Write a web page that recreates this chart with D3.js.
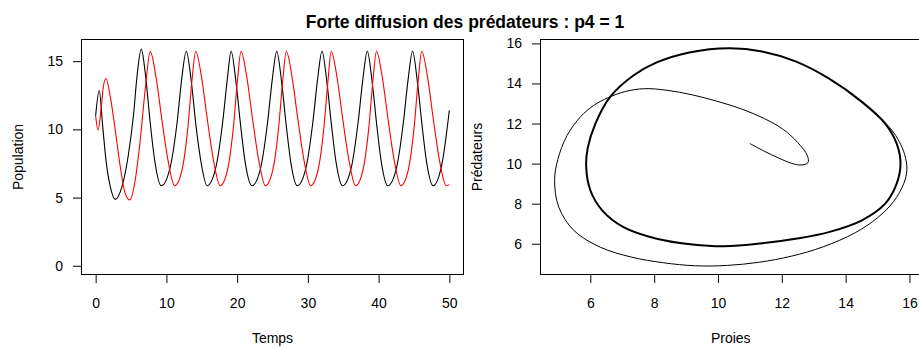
<!DOCTYPE html>
<html>
<head>
<meta charset="utf-8">
<script src="https://cdn.jsdelivr.net/npm/d3@7"></script>
<style>
  body { margin: 0; background: #fff; }
  svg text { font-family: "Liberation Sans", Arial, sans-serif; fill: #000; }
</style>
</head>
<body>
<div id="chart"></div>
<script>
// ---------------------------------------------------------------------------
// Données : [temps, population]
// ---------------------------------------------------------------------------
const titre = 'Forte diffusion des prédateurs : p4 = 1';

// proies (noir)
const proies = [
  [0, 11.0], [0.5, 12.85], [1.0, 10.2], [1.46, 7.75], [2.07, 5.8], [2.77, 4.87],
  [3.72, 5.8], [4.66, 8.25], [5.37, 11.15], [5.84, 13.85], [6.45, 15.88],
  [7.02, 14.1], [7.72, 10.45], [8.34, 7.75], [9.28, 5.87],
  [10.55, 7.25], [11.5, 10.45], [12.2, 13.85], [12.81, 15.73],
  [13.5, 13.6], [14.2, 10.2], [14.93, 7.5], [15.74, 5.87],
  [17.05, 7.35], [17.95, 10.5], [18.62, 13.7], [19.15, 15.73],
  [19.83, 13.5], [20.48, 10.35], [21.15, 7.55], [22.1, 5.87],
  [23.4, 7.35], [24.3, 10.5], [24.98, 13.7], [25.6, 15.73],
  [26.28, 13.5], [26.93, 10.35], [27.6, 7.55], [28.5, 5.87],
  [29.8, 7.35], [30.7, 10.5], [31.38, 13.7], [32.0, 15.73],
  [32.68, 13.5], [33.33, 10.35], [34.0, 7.55], [34.9, 5.87],
  [36.2, 7.35], [37.1, 10.5], [37.78, 13.7], [38.4, 15.73],
  [39.08, 13.5], [39.73, 10.35], [40.4, 7.55], [41.3, 5.87],
  [42.6, 7.35], [43.5, 10.5], [44.18, 13.7], [44.8, 15.73],
  [45.48, 13.5], [46.13, 10.35], [46.8, 7.55], [47.7, 5.87],
  [49.0, 7.6], [50.0, 11.4]
];

// prédateurs (rouge)
const predateurs = [
  [0, 11.0], [0.33, 9.95], [0.8, 11.65], [1.08, 13.1], [1.46, 13.73],
  [2.07, 12.4], [2.77, 9.95], [3.48, 7.26], [4.1, 5.44], [4.8, 4.83],
  [5.6, 6.3], [6.3, 9.2], [7.0, 12.9], [7.72, 15.7],
  [8.53, 13.85], [9.37, 10.68], [10.22, 7.75], [11.17, 5.87],
  [12.2, 7.0], [13.05, 10.2], [13.62, 13.6], [14.15, 15.73],
  [14.96, 13.85], [15.8, 10.68], [16.65, 7.75], [17.6, 5.87],
  [18.63, 7.0], [19.48, 10.2], [20.05, 13.6], [20.55, 15.73],
  [21.36, 13.85], [22.2, 10.68], [23.05, 7.75], [24.0, 5.87],
  [25.03, 7.0], [25.88, 10.2], [26.45, 13.6], [26.95, 15.73],
  [27.76, 13.85], [28.6, 10.68], [29.45, 7.75], [30.4, 5.87],
  [31.43, 7.0], [32.28, 10.2], [32.85, 13.6], [33.3, 15.73],
  [34.11, 13.85], [34.95, 10.68], [35.8, 7.75], [36.75, 5.87],
  [37.78, 7.0], [38.63, 10.2], [39.2, 13.6], [39.7, 15.73],
  [40.51, 13.85], [41.35, 10.68], [42.2, 7.75], [43.15, 5.87],
  [44.18, 7.0], [45.03, 10.2], [45.6, 13.6], [46.1, 15.73],
  [46.91, 13.85], [47.75, 10.68], [48.6, 7.75], [49.55, 5.87],
  [50.0, 5.95]
];

// plan de phase : [proies, prédateurs]
const phaseTransitoire = [
  [11.0, 11.0], [11.45, 10.62], [11.9, 10.28], [12.3, 10.02], [12.6, 9.93],
  [12.82, 10.05], [12.8, 10.4], [12.5, 11.05], [12.05, 11.7], [11.45, 12.25],
  [10.75, 12.72], [10.0, 13.1], [9.2, 13.43], [8.4, 13.66], [7.7, 13.74],
  [7.1, 13.6], [6.57, 13.3], [6.1, 12.9], [5.7, 12.35], [5.27, 11.4],
  [4.98, 10.2], [4.88, 9.17], [5.01, 7.83], [5.48, 6.67], [6.31, 5.83],
  [7.3, 5.33], [8.3, 5.05], [9.3, 4.9], [10.3, 4.92], [11.3, 5.08],
  [12.3, 5.38], [13.3, 5.85], [14.3, 6.55], [15.0, 7.3], [15.5, 8.1],
  [15.82, 9.0], [15.92, 9.7], [15.85, 10.45], [15.68, 11.1], [15.45, 11.67],
  [15.2, 12.1]
];

const cycleLimite = [
  [10.36, 15.76], [11.38, 15.6], [12.43, 15.1], [13.47, 14.25], [14.51, 13.08],
  [15.24, 12.0], [15.6, 11.0], [15.72, 10.0], [15.6, 9.0], [15.24, 8.0],
  [14.51, 7.17], [13.47, 6.58], [12.43, 6.25], [11.38, 6.02], [10.2, 5.87],
  [9.2, 5.96], [8.08, 6.25], [7.04, 6.83], [6.37, 7.67], [6.0, 8.67],
  [5.87, 9.83], [5.92, 10.8], [6.16, 12.0], [6.62, 13.33], [7.35, 14.4],
  [8.08, 15.05], [9.1, 15.55]
];

const ticksTemps = [0, 10, 20, 30, 40, 50];
const ticksPop = [0, 5, 10, 15];
const ticksProies = [6, 8, 10, 12, 14, 16];
const ticksPred = [6, 8, 10, 12, 14, 16];
const limTemps = [0, 50];
const limPop = [0, 15.95];

// ---------------------------------------------------------------------------
const W = 919, H = 347;
const svg = d3.select('#chart').append('svg')
  .attr('width', W).attr('height', H);

// comme R : étendre les limites de 4 %
function pad(ext) {
  const d = (ext[1] - ext[0]) * 0.04;
  return [ext[0] - d, ext[1] + d];
}

function panel(box, xs, ys, xTicks, yTicks, xLab, yLab, yLabX) {
  const g = svg.append('g');

  const ax = g.append('g')
    .attr('transform', `translate(0,${box.y1})`)
    .call(d3.axisBottom(xs).tickValues(xTicks).tickSize(8.5).tickPadding(15).tickSizeOuter(0));
  const ay = g.append('g')
    .attr('transform', `translate(${box.x0},0)`)
    .call(d3.axisLeft(ys).tickValues(yTicks).tickSize(8.5).tickPadding(10).tickSizeOuter(0));
  [ax, ay].forEach(a => {
    a.select('.domain').remove();
    a.selectAll('line').attr('stroke', '#000');
    a.selectAll('text').attr('font-size', 14).attr('font-family', null);
  });

  g.append('rect')
    .attr('x', box.x0).attr('y', box.y0)
    .attr('width', box.x1 - box.x0).attr('height', box.y1 - box.y0)
    .attr('fill', 'none').attr('stroke', '#000').attr('stroke-width', 1);

  g.append('text')
    .attr('x', (box.x0 + box.x1) / 2).attr('y', 343)
    .attr('text-anchor', 'middle').attr('font-size', 14)
    .text(xLab);

  g.append('text')
    .attr('transform', `translate(${yLabX},${(box.y0 + box.y1) / 2}) rotate(-90)`)
    .attr('text-anchor', 'middle').attr('font-size', 14)
    .text(yLab);

  return g;
}

// ---- panneau gauche : séries temporelles ----
const boxL = { x0: 81.5, x1: 463.5, y0: 39.5, y1: 274.5 };
const xT = d3.scaleLinear().domain(pad(limTemps)).range([boxL.x0, boxL.x1]);
const yP = d3.scaleLinear().domain(pad(limPop)).range([boxL.y1, boxL.y0]);
const gL = panel(boxL, xT, yP, ticksTemps, ticksPop, 'Temps', 'Population', 22.5);

const lineT = d3.line()
  .x(d => xT(d[0])).y(d => yP(d[1]))
  .curve(d3.curveMonotoneX);

gL.append('path').datum(proies)
  .attr('d', lineT).attr('fill', 'none')
  .attr('stroke', '#000').attr('stroke-width', 1.1);
gL.append('path').datum(predateurs)
  .attr('d', lineT).attr('fill', 'none')
  .attr('stroke', '#ff0000').attr('stroke-width', 1.1);

// ---- panneau droit : plan de phase ----
const boxR = { x0: 540.5, x1: 921, y0: 39.5, y1: 274.5 };
const allPhase = phaseTransitoire.concat(cycleLimite);
const xPh = d3.scaleLinear().domain(pad(d3.extent(allPhase, d => d[0]))).range([boxR.x0, boxR.x1]);
const yPh = d3.scaleLinear().domain(pad(d3.extent(allPhase, d => d[1]))).range([boxR.y1, boxR.y0]);
const gR = panel(boxR, xPh, yPh, ticksProies, ticksPred, 'Proies', 'Prédateurs', 482);

gR.append('path').datum(phaseTransitoire)
  .attr('d', d3.line().x(d => xPh(d[0])).y(d => yPh(d[1])).curve(d3.curveCatmullRom.alpha(0.5)))
  .attr('fill', 'none').attr('stroke', '#000').attr('stroke-width', 1);
gR.append('path').datum(cycleLimite)
  .attr('d', d3.line().x(d => xPh(d[0])).y(d => yPh(d[1])).curve(d3.curveCatmullRomClosed.alpha(0.5)))
  .attr('fill', 'none').attr('stroke', '#000').attr('stroke-width', 2);

// ---- titre ----
svg.append('text')
  .attr('x', 465).attr('y', 28)
  .attr('text-anchor', 'middle')
  .attr('font-size', 17.5).attr('font-weight', 'bold')
  .text(titre);
</script>
</body>
</html>
